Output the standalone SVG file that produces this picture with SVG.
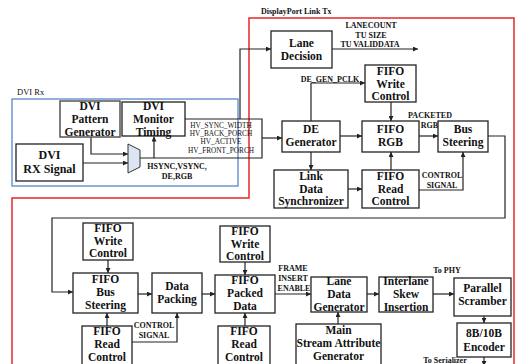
<svg xmlns="http://www.w3.org/2000/svg" width="516" height="364" viewBox="0 0 516 364">
<defs>
<marker id="ah" viewBox="0 0 6 6" refX="6" refY="3" markerWidth="5" markerHeight="5" orient="auto" markerUnits="userSpaceOnUse">
<path d="M0,0 L6,3 L0,6 Z" fill="#222"/>
</marker>
<style>
.box{fill:#fff;stroke:#222;stroke-width:1.3}
.nt{font-family:"Liberation Serif","Times New Roman",serif;font-weight:bold;font-size:11.5px;text-anchor:middle;fill:#111}
.lb{font-family:"Liberation Serif","Times New Roman",serif;font-weight:bold;font-size:8px;text-anchor:middle;fill:#111}
.hv{font-family:"Liberation Serif","Times New Roman",serif;font-size:7.3px;text-anchor:middle;fill:#111}
.c{fill:none;stroke:#222;stroke-width:1.2}
.ca{fill:none;stroke:#222;stroke-width:1.2;marker-end:url(#ah)}
</style>
</defs>
<rect width="516" height="364" fill="#fff"/>
<!-- frames -->
<path d="M12,370 V198 H249 V18 H514 V370" fill="none" stroke="#e8262b" stroke-width="1.5"/>
<rect x="12" y="99" width="226" height="87" fill="none" stroke="#4a7cc9" stroke-width="1.2"/>
<text x="17" y="95" style="font-family:'Liberation Serif',serif;font-size:8.5px;fill:#111">DVI Rx</text>
<text x="261" y="14" style="font-family:'Liberation Serif',serif;font-weight:bold;font-size:8px;fill:#111">DisplayPort Link Tx</text>

<g id="connectors">
<path class="ca" d="M91,137 V154 H128"/>
<path class="ca" d="M83,163 H128"/>
<path class="c" d="M140,158 H262 V119 H185"/>
<path class="ca" d="M154,158 V136.5"/>
<path class="ca" d="M262,138 H282"/>
<path class="ca" d="M240,119 V49 H271"/>
<path class="ca" d="M332,49 H418"/>
<path class="ca" d="M311,121 V83 H365"/>
<path class="ca" d="M340,136 H362"/>
<path class="ca" d="M311,152 V170"/>
<path class="ca" d="M391,102 V121"/>
<path class="ca" d="M391,170 V152"/>
<path class="ca" d="M348,189 H362"/>
<path class="ca" d="M419,136 H438"/>
<path class="ca" d="M419,190 H463 V152"/>
<path class="ca" d="M488,136 H505 V218 H52 V292 H73"/>
<path class="ca" d="M108,260 V273"/>
<path class="ca" d="M107,326 V313"/>
<path class="ca" d="M138,294 H152"/>
<path class="ca" d="M202,294 H215"/>
<path class="ca" d="M132,342 H177 V313"/>
<path class="ca" d="M245,262 V275"/>
<path class="ca" d="M245,326 V313"/>
<path class="ca" d="M275,294 H311"/>
<path class="ca" d="M367,294 H379"/>
<path class="ca" d="M433,294 H454"/>
<path class="ca" d="M338,324 V312"/>
<path class="ca" d="M484,316 V323"/>
<path class="ca" d="M484,357 V366"/>
</g>

<!-- labels -->
<text class="lb" x="371" y="28">LANECOUNT</text>
<text class="lb" x="371" y="37.5">TU SIZE</text>
<text class="lb" x="370" y="47">TU VALIDDATA</text>
<text class="lb" x="330" y="82">DE_GEN_PCLK</text>
<text class="hv" x="221" y="128">HV_SYNC_WIDTH</text>
<text class="hv" x="221" y="136">HV_BACK_PORCH</text>
<text class="hv" x="221" y="144">HV_ACTIVE</text>
<text class="hv" x="221" y="152.5">HV_FRONT_PORCH</text>
<text class="lb" x="177" y="169">HSYNC,VSYNC,</text>
<text class="lb" x="177" y="179">DE,RGB</text>
<text class="lb" x="430" y="118">PACKETED</text>
<text class="lb" x="438" y="128" text-anchor="end" style="text-anchor:end">RGB</text>
<text class="lb" x="442" y="178">CONTROL</text>
<text class="lb" x="442" y="187.5">SIGNAL</text>
<text class="lb" x="154" y="328">CONTROL</text>
<text class="lb" x="154" y="337.5">SIGNAL</text>
<text class="lb" x="293" y="271">FRAME</text>
<text class="lb" x="293" y="281">INSERT</text>
<text class="lb" x="294" y="291">ENABLE</text>
<text class="lb" x="447" y="273">To PHY</text>
<text class="lb" x="445" y="363">To Serializer</text>

<g id="mux"><polygon points="128,144 140,150 140,167 128,173" fill="#dce6f2" stroke="#333" stroke-width="1"/></g>

<g id="dvi-pattern"><rect class="box" x="60" y="101" width="60" height="36" style="stroke:#555;stroke-width:1.5"/>
<text class="nt" x="90" y="110">DVI</text><text class="nt" x="90" y="123">Pattern</text><text class="nt" x="90" y="136">Generator</text></g>
<g id="dvi-monitor"><rect class="box" x="122" y="102" width="63" height="34"/>
<text class="nt" x="153.5" y="110">DVI</text><text class="nt" x="153.5" y="123">Monitor</text><text class="nt" x="153.5" y="136">Timing</text></g>
<g id="dvi-rx"><rect class="box" x="16" y="144" width="67" height="37"/>
<text class="nt" x="49.5" y="159" style="font-size:12px">DVI</text><text class="nt" x="49.5" y="173" style="font-size:12px">RX Signal</text></g>
<g id="lane-decision"><rect class="box" x="271" y="31" width="61" height="37"/>
<text class="nt" x="301.5" y="47">Lane</text><text class="nt" x="301.5" y="60">Decision</text></g>
<g id="fifo-wc1"><rect class="box" x="365" y="65" width="51" height="37"/>
<text class="nt" x="390.5" y="75">FIFO</text><text class="nt" x="390.5" y="87.5">Write</text><text class="nt" x="390.5" y="100">Control</text></g>
<g id="de-gen"><rect class="box" x="282" y="121" width="58" height="31"/>
<text class="nt" x="311" y="133">DE</text><text class="nt" x="311" y="146">Generator</text></g>
<g id="fifo-rgb"><rect class="box" x="362" y="121" width="57" height="31"/>
<text class="nt" x="390.5" y="133">FIFO</text><text class="nt" x="390.5" y="146">RGB</text></g>
<g id="bus-steering"><rect class="box" x="438" y="121" width="50" height="31"/>
<text class="nt" x="463" y="133">Bus</text><text class="nt" x="463" y="146">Steering</text></g>
<g id="link-sync"><rect class="box" x="274" y="170" width="74" height="38"/>
<text class="nt" x="311" y="180">Link</text><text class="nt" x="311" y="192.5">Data</text><text class="nt" x="311" y="205">Synchronizer</text></g>
<g id="fifo-rc1"><rect class="box" x="362" y="170" width="57" height="38"/>
<text class="nt" x="390.5" y="180">FIFO</text><text class="nt" x="390.5" y="192.5">Read</text><text class="nt" x="390.5" y="205">Control</text></g>
<g id="fifo-wc2"><rect class="box" x="83" y="223" width="50" height="37"/>
<text class="nt" x="108" y="232">FIFO</text><text class="nt" x="108" y="244.5">Write</text><text class="nt" x="108" y="257">Control</text></g>
<g id="fifo-bus"><rect class="box" x="73" y="273" width="65" height="40"/>
<text class="nt" x="105.5" y="283">FIFO</text><text class="nt" x="105.5" y="296">Bus</text><text class="nt" x="105.5" y="309">Steering</text></g>
<g id="data-packing"><rect class="box" x="152" y="273" width="50" height="40"/>
<text class="nt" x="177" y="290">Data</text><text class="nt" x="177" y="303">Packing</text></g>
<g id="fifo-rc2"><rect class="box" x="82" y="326" width="50" height="44"/>
<text class="nt" x="107" y="335">FIFO</text><text class="nt" x="107" y="348">Read</text><text class="nt" x="107" y="361">Control</text></g>
<g id="fifo-wc3"><rect class="box" x="220" y="226" width="50" height="36"/>
<text class="nt" x="245" y="235">FIFO</text><text class="nt" x="245" y="247.5">Write</text><text class="nt" x="245" y="260">Control</text></g>
<g id="fifo-packed"><rect class="box" x="215" y="275" width="60" height="38"/>
<text class="nt" x="245" y="284">FIFO</text><text class="nt" x="245" y="297">Packed</text><text class="nt" x="245" y="309.5">Data</text></g>
<g id="fifo-rc3"><rect class="box" x="218" y="326" width="52" height="44"/>
<text class="nt" x="244" y="335">FIFO</text><text class="nt" x="244" y="348">Read</text><text class="nt" x="244" y="361">Control</text></g>
<g id="lane-data-gen"><rect class="box" x="311" y="277" width="56" height="35"/>
<text class="nt" x="339" y="285">Lane</text><text class="nt" x="339" y="298">Data</text><text class="nt" x="339" y="310.5">Generator</text></g>
<g id="interlane"><rect class="box" x="379" y="277" width="54" height="35"/>
<text class="nt" x="406" y="285">Interlane</text><text class="nt" x="406" y="298">Skew</text><text class="nt" x="406" y="310.5">Insertion</text></g>
<g id="scrambler"><rect class="box" x="454" y="278" width="57" height="38"/>
<text class="nt" x="482.5" y="292">Parallel</text><text class="nt" x="482.5" y="305">Scramber</text></g>
<g id="encoder"><rect class="box" x="457" y="323" width="54" height="34"/>
<text class="nt" x="484" y="337">8B/10B</text><text class="nt" x="484" y="351">Encoder</text></g>
<g id="main-stream"><rect class="box" x="296" y="324" width="85" height="46"/>
<text class="nt" x="338.5" y="334">Main</text><text class="nt" x="338.5" y="347">Stream Attribute</text><text class="nt" x="338.5" y="360">Generator</text></g>
</svg>
